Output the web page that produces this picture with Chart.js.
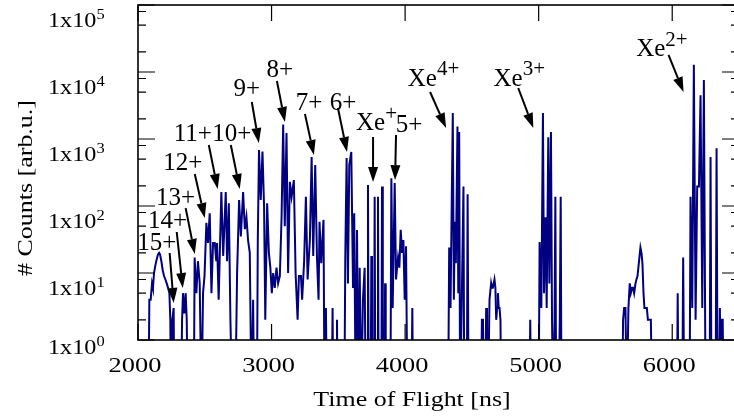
<!DOCTYPE html>
<html>
<head>
<meta charset="utf-8">
<title>Xe TOF spectrum</title>
<script src="https://cdn.jsdelivr.net/npm/chart.js@4.4.1/dist/chart.umd.min.js"></script>
<style>
  html, body { margin: 0; padding: 0; background: #fff; overflow: hidden; }
  #wrap { width: 745px; height: 419px; }
</style>
</head>
<body>
<div id="wrap"><canvas id="tof" width="745" height="419"></canvas></div>
<script>
// time of flight [ns] and counts, 0 = empty bin
const tofNs = [
  2078, 2085, 2095, 2105, 2112, 2120, 2130, 2140, 2150, 2158, 2165, 2175, 2185, 2195, 2205, 2215, 2225, 2235, 2242, 2247, 2257, 2267, 2272,
  2322, 2330, 2337, 2347, 2357, 2365, 2372,
  2418, 2424, 2437, 2449, 2462, 2475, 2487, 2498, 2512, 2524, 2537, 2550, 2562, 2575, 2586, 2592, 2604, 2624, 2638, 2657, 2667, 2680, 2692, 2706,
  2728, 2742, 2757, 2770, 2787, 2800, 2812, 2824, 2837, 2850, 2862, 2870,
  2890, 2897, 2906, 2919, 2932, 2944, 2953, 2967, 2980, 2991, 3002, 3012, 3024, 3037, 3049, 3062,
  3075, 3087, 3099, 3112, 3124, 3137, 3150, 3167, 3180, 3195, 3205, 3220, 3229, 3244, 3257, 3270,
  3287, 3300, 3312, 3327, 3340, 3352, 3359, 3372, 3389, 3397, 3407, 3415,
  3450, 3457, 3462, 3485, 3490, 3495,
  3545, 3552, 3562, 3572, 3582, 3597, 3610, 3619, 3630, 3640, 3649, 3660, 3672, 3684, 3697, 3705,
  3716, 3722, 3728, 3742, 3747, 3752, 3767, 3772, 3777, 3792, 3797, 3802, 3822, 3827, 3833, 3845, 3850, 3855, 3890,
  3897, 3907, 3922, 3932, 3947, 3957, 3967, 3977, 3987, 3997, 4007, 4017, 4047, 4054, 4060,
  4322, 4330, 4340, 4357, 4365, 4372, 4380, 4392, 4398, 4405, 4412, 4425, 4437, 4443, 4462, 4468, 4475,
  4568, 4575, 4583, 4590, 4600, 4607, 4613, 4620, 4632, 4644, 4650, 4657, 4669, 4676, 4682, 4689, 4695, 4701, 4707, 4714, 4720,
  4930, 4937, 4943,
  5000, 5007, 5020, 5032, 5040, 5052, 5060, 5072, 5080, 5092, 5100, 5108, 5119, 5125, 5131, 5150, 5158, 5165, 5171,
  5625, 5632, 5640, 5650, 5660, 5672, 5682, 5690, 5700, 5707, 5715, 5725, 5732, 5740, 5750, 5762, 5770, 5777, 5785, 5792, 5800, 5810, 5818, 5830, 5840, 5850,
  6035, 6041, 6047, 6075, 6082, 6090, 6130, 6137, 6150, 6162, 6175, 6187, 6200, 6212, 6225, 6237, 6250, 6280, 6287, 6294, 6325, 6332, 6340, 6350, 6357, 6363, 6370, 6378, 6385, 6500
];
const counts = [
  0, 4, 4, 7, 6, 10, 13, 16, 19, 20, 19, 15, 11, 9, 8, 7, 6, 5, 2, 0, 2, 3, 0,
  0, 2, 5, 2.5, 5, 2, 0,
  0, 17, 5, 15, 7, 0, 5, 9, 56, 28, 78, 5, 28, 28, 15, 28, 4, 162, 18, 162, 15, 110, 2, 0,
  0, 10, 123, 35, 162, 45, 68, 31, 20, 0, 4, 0,
  0, 31, 684, 123, 650, 97, 2, 110, 20, 12, 5, 10, 6, 12, 7, 9,
  68, 1640, 50, 1230, 10, 230, 137, 244, 10, 2, 9, 9, 4, 15, 137, 8,
  31, 540, 18, 410, 17, 4, 58, 14, 62, 0, 3, 0,
  0, 3, 0, 0, 2, 0,
  0, 17, 520, 7, 410, 640, 6, 78, 0, 44, 0, 12, 0, 4, 12, 0,
  0, 205, 0, 0, 18, 0, 0, 137, 0, 0, 137, 0, 0, 195, 0, 0, 7, 0, 0,
  260, 3, 220, 8, 17, 12, 44, 20, 31, 4, 25, 0, 0, 3, 0,
  0, 24, 3, 2440, 4, 58, 14, 1530, 5, 1270, 0, 5, 195, 0, 0, 150, 0,
  0, 2, 2, 0, 0, 3, 0, 0, 4, 7, 6, 6, 8, 6, 2, 3, 5, 3, 3, 2, 0,
  0, 2, 0,
  0, 29, 3, 2440, 5, 68, 3, 1060, 7, 1270, 2, 0, 2, 137, 0, 0, 2, 137, 0,
  0, 2, 3, 3, 0, 3, 7, 5, 6, 6, 5, 7, 8, 9, 14, 24, 20, 14, 5, 3, 3, 3, 2, 2, 2, 0,
  0, 5, 0, 0, 17, 0, 0, 137, 3, 12800, 2, 195, 195, 4500, 3, 7600, 0, 0, 540, 0, 0, 730, 0, 0, 3, 0, 2, 2, 0, 0
];

const xTicks = [2000, 3000, 4000, 5000, 6000];
const yDecades = [1, 10, 100, 1000, 10000, 100000];
const yMinorSteps = [2, 5, 8];

// charge state labels (text + superscript), label centre, arrow start, arrow tip - all in data coords
const peakText = ['15+', '14+', '13+', '12+', '11+', '10+', '9+', '8+', '7+', '6+', 'Xe', '5+', 'Xe', 'Xe', 'Xe'];
const peakSup = ['', '', '', '', '', '', '', '', '', '', '+', '', '4+', '3+', '2+'];
const labelAt = [[2140, 28], [2222, 58], [2282, 131], [2335, 438], [2410, 1188], [2702, 1188], [2815, 5575], [3062, 10720],
  [3280, 3445], [3535, 3445], [3786, 1700], [4030, 1618], [4213, 7870], [4855, 7870], [5923, 22040]];
const arrowFrom = [[2237, 19.9], [2290, 40.9], [2357, 93], [2425, 300], [2530, 813], [2695, 813], [2852, 3565], [3040, 7340],
  [3250, 2361], [3497, 2902], [3760, 1071], [3932, 1148], [4187, 5025], [4847, 5770], [5972, 17940]];
const arrowTo = [[2267, 3.57], [2335, 5.97], [2425, 19.2], [2500, 66], [2597, 179], [2762, 179], [2905, 871], [3100, 1794],
  [3317, 577], [3565, 640], [3760, 228], [3925, 244], [4307, 1459], [4960, 1459], [6085, 5025]];

const SERIF = "'Liberation Serif', 'Times New Roman', serif";

// the original lettering is a bit wider than Times, so stretch it along the text direction
function wideText(ctx, txt, x, y, sx) {
  ctx.save();
  ctx.translate(x, y);
  ctx.scale(sx, 1);
  ctx.fillText(txt, 0, 0);
  ctx.restore();
}

function arrow(ctx, x0, y0, x1, y1) {
  const ang = Math.atan2(y1 - y0, x1 - x0);
  const hl = 15, hw = 5;
  const bx = x1 - hl * Math.cos(ang), by = y1 - hl * Math.sin(ang);
  ctx.beginPath();
  ctx.moveTo(x0, y0);
  ctx.lineTo(bx, by);
  ctx.stroke();
  ctx.beginPath();
  ctx.moveTo(x1, y1);
  ctx.lineTo(bx + hw * Math.sin(ang), by - hw * Math.cos(ang));
  ctx.lineTo(bx - hw * Math.sin(ang), by + hw * Math.cos(ang));
  ctx.closePath();
  ctx.fill();
}

const framePlugin = {
  id: 'frame',
  afterDraw(chart) {
    const { ctx, chartArea: a, scales: { x, y } } = chart;
    ctx.save();
    ctx.strokeStyle = '#000';
    ctx.fillStyle = '#000';

    // inward ticks on all four sides (right frame sits just past the crop, like the original)
    ctx.lineWidth = 1.2;
    ctx.beginPath();
    xTicks.forEach(v => {
      const px = x.getPixelForValue(v);
      ctx.moveTo(px, a.top); ctx.lineTo(px, a.top + 16);
      ctx.moveTo(px, a.bottom); ctx.lineTo(px, a.bottom - 16);
    });
    yDecades.forEach((d, i) => {
      const py = y.getPixelForValue(d);
      ctx.moveTo(a.left, py); ctx.lineTo(a.left + 17, py);
      ctx.moveTo(a.right, py); ctx.lineTo(a.right - 17, py);
      if (i === yDecades.length - 1) return;
      yMinorSteps.forEach(m => {
        const pm = y.getPixelForValue(d * m);
        ctx.moveTo(a.left, pm); ctx.lineTo(a.left + 8, pm);
        ctx.moveTo(a.right, pm); ctx.lineTo(a.right - 8, pm);
      });
    });
    ctx.stroke();

    ctx.lineWidth = 1.6;
    ctx.strokeRect(a.left, a.top, a.right - a.left, a.bottom - a.top);

    // x tick labels
    ctx.font = '22px ' + SERIF;
    ctx.textAlign = 'center';
    ctx.textBaseline = 'alphabetic';
    xTicks.forEach(v => wideText(ctx, String(v), x.getPixelForValue(v) - 3, 372, 1.2));

    // y tick labels 1x10^n
    ctx.textAlign = 'left';
    yDecades.forEach((d, i) => {
      const base = Math.min(y.getPixelForValue(d) + 22, 354);
      ctx.font = '22px ' + SERIF;
      wideText(ctx, '1x10', 48, base, 1.1);
      const w = ctx.measureText('1x10').width * 1.1;
      ctx.font = '15px ' + SERIF;
      wideText(ctx, String(i), 48 + w, base - 8, 1.1);
    });

    // axis titles
    ctx.font = '22px ' + SERIF;
    ctx.textAlign = 'center';
    ctx.textBaseline = 'middle';
    wideText(ctx, 'Time of Flight [ns]', 412, 400, 1.18);
    ctx.save();
    ctx.translate(26, 188);
    ctx.rotate(-Math.PI / 2);
    wideText(ctx, '# Counts [arb.u.]', 0, 0, 1.18);
    ctx.restore();

    // peak labels with arrows
    ctx.lineWidth = 2;
    peakText.forEach((txt, i) => {
      const lx = x.getPixelForValue(labelAt[i][0]);
      const ly = y.getPixelForValue(labelAt[i][1]);
      ctx.font = '25px ' + SERIF;
      const wb = ctx.measureText(txt).width;
      ctx.font = '21px ' + SERIF;
      const ws = peakSup[i] ? ctx.measureText(peakSup[i]).width : 0;
      const x0 = lx - (wb + ws) / 2;
      ctx.textAlign = 'left';
      ctx.font = '25px ' + SERIF;
      ctx.fillText(txt, x0, ly);
      if (peakSup[i]) {
        ctx.font = '21px ' + SERIF;
        ctx.fillText(peakSup[i], x0 + wb, ly - 9);
      }
      arrow(ctx,
        x.getPixelForValue(arrowFrom[i][0]), y.getPixelForValue(arrowFrom[i][1]),
        x.getPixelForValue(arrowTo[i][0]), y.getPixelForValue(arrowTo[i][1]));
    });
    ctx.restore();
  }
};

function drawChart() {
  new Chart(document.getElementById('tof'), {
    type: 'line',
    data: {
      datasets: [{
        // empty bins are pushed below the axis so the trace drops out of view like the original
        data: tofNs.map((t, i) => ({ x: t, y: counts[i] > 0 ? counts[i] : 0.1 })),
        borderColor: '#000080',
        borderWidth: 2,
        pointRadius: 0,
        tension: 0,
        clip: 0
      }]
    },
    options: {
      responsive: false,
      animation: false,
      devicePixelRatio: 1,
      layout: { padding: { left: 138, right: 6, top: 5, bottom: 79 } },
      plugins: { legend: { display: false }, tooltip: { enabled: false } },
      scales: {
        x: { type: 'linear', min: 2000, max: 6500, display: false },
        y: { type: 'logarithmic', min: 1, max: 100000, display: false }
      }
    },
    plugins: [framePlugin]
  });
}

document.fonts.load("22px 'Liberation Serif'").then(drawChart, drawChart);
</script>
</body>
</html>
